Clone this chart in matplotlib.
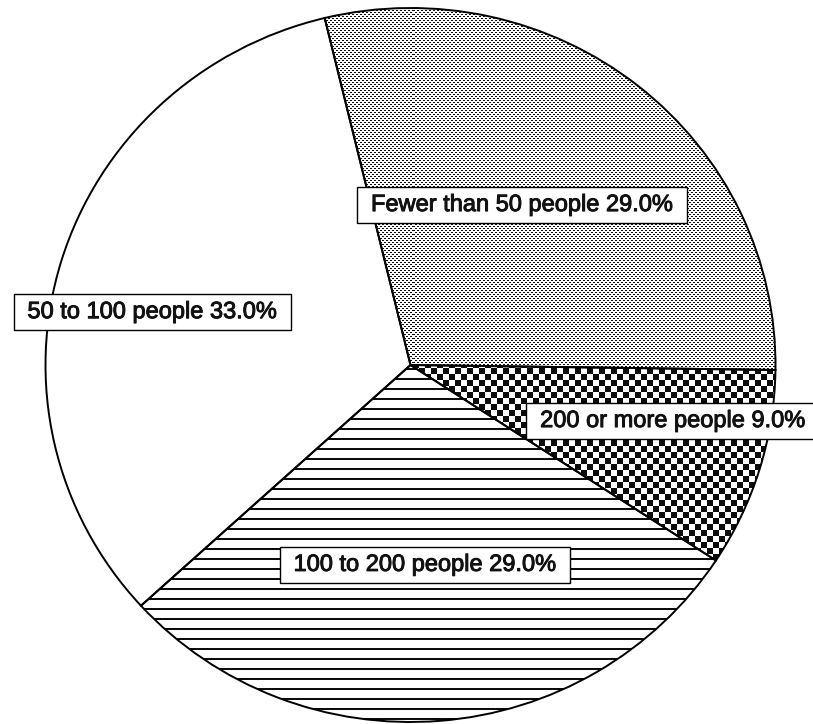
import numpy as np
import matplotlib
matplotlib.use("Agg")
import matplotlib.pyplot as plt
import matplotlib.patheffects as pe

# Share of respondents by group size
categories = ["Fewer than 50 people", "50 to 100 people",
              "100 to 200 people", "200 or more people"]
shares = [29.0, 33.0, 29.0, 9.0]

W, H, DPI = 813, 724, 100
plt.rcParams["font.family"] = ["Liberation Sans", "DejaVu Sans"]

fig = plt.figure(figsize=(W / DPI, H / DPI), dpi=DPI)
fig.patch.set_facecolor("white")

# axes placed so the unit pie fills the frame (pixel box of the circle)
left_px, right_px, top_px, bot_px = 45.5, 775.5, 8.0, 722.0
ax = fig.add_axes([left_px / W, (H - bot_px) / H,
                   (right_px - left_px) / W, (bot_px - top_px) / H])

START = -0.8

# base fill (white), no edges yet
fills, _ = ax.pie(shares, startangle=START, counterclock=True,
                  colors=["white"] * len(shares),
                  wedgeprops=dict(edgecolor="none", linewidth=0))

# texture rasters, one figure pixel per cell
nx, ny = int(right_px - left_px), int(bot_px - top_px)
yy, xx = np.mgrid[0:ny, 0:nx]

stipple = np.ones((ny, nx))
dots = ((xx % 4 < 2) & (yy % 4 == 0)) | (((xx + 2) % 4 < 2) & (yy % 4 == 2))
stipple[dots] = 0.05

checker = np.where(((xx // 6) + (yy // 6)) % 2 == 0, 0.05, 1.0)

hlines = np.where(yy % 10 < 2, 0.05, 1.0)

textures = {0: stipple, 2: hlines, 3: checker}
for idx, tex in textures.items():
    im = ax.imshow(tex, extent=(-1, 1, -1, 1), interpolation="nearest",
                   cmap="gray", vmin=0, vmax=1, aspect="auto", zorder=2)
    im.set_clip_path(fills[idx])

# outlines on top
edges, _ = ax.pie(shares, startangle=START, counterclock=True,
                  colors=["none"] * len(shares),
                  wedgeprops=dict(edgecolor="black", linewidth=1.4,
                                  fill=False, zorder=3))

ax.set_aspect("auto")
ax.set_xlim(-1, 1)
ax.set_ylim(-1, 1)
ax.axis("off")

# label anchor points in pie units (x, y)
label_xy = [(0.306, 0.448), (-0.707, 0.148), (0.040, -0.560), (0.719, -0.157)]

ink = [pe.withStroke(linewidth=0.7, foreground="#111111")]
for name, val, (lx, ly) in zip(categories, shares, label_xy):
    ax.text(lx, ly, f" {name} {val:.1f}% ", ha="center", va="center",
            fontsize=17, color="#111111", zorder=5, clip_on=False,
            path_effects=ink,
            bbox=dict(boxstyle="square,pad=0.3", facecolor="white",
                      edgecolor="black", linewidth=1.0))

fig.savefig("out.png", dpi=DPI, facecolor="white")
